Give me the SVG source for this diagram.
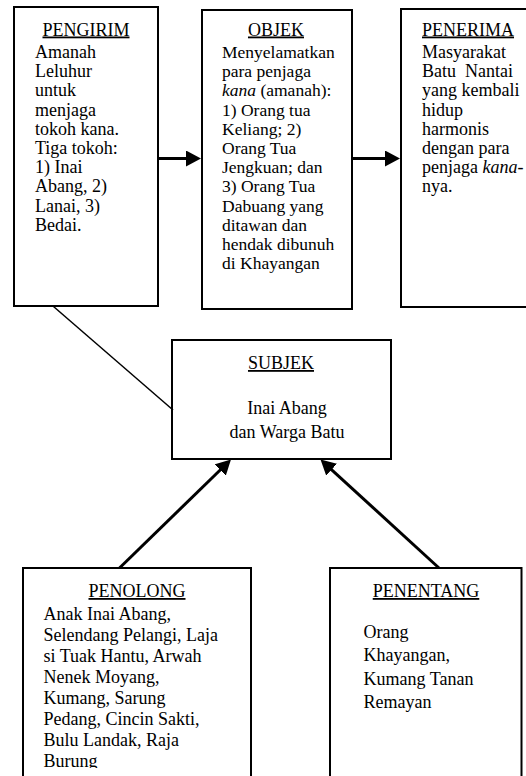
<svg xmlns="http://www.w3.org/2000/svg" width="526" height="776" viewBox="0 0 526 776">
<style>
  .box { fill: #ffffff; stroke: #000000; stroke-width: 2; }
  text { font-family: "Liberation Serif", "Times New Roman", serif; font-size: 18px; fill: #000000; }
  .obj { font-size: 17.5px; }
  .hd { text-decoration: underline; }
  .mid { text-anchor: middle; }
  .pre { white-space: pre; }
  .arrow { stroke: #000000; stroke-width: 3; fill: none; marker-end: url(#ah); }
  .thin { stroke: #000000; stroke-width: 1.5; fill: none; }
  .it { font-style: italic; }
</style>
<defs>
  <marker id="ah" viewBox="0 0 15 16" refX="5" refY="8" markerWidth="15" markerHeight="16" markerUnits="userSpaceOnUse" orient="auto">
    <path d="M0,0 L15,8 L0,16 z" fill="#000000"/>
  </marker>
  <clipPath id="clipPenolong">
    <rect x="23" y="568" width="228" height="200"/>
  </clipPath>
</defs>
<rect width="526" height="776" fill="#ffffff"/>

<g id="pengirim">
  <rect class="box" x="14" y="7" width="144" height="299"/>
  <text class="hd mid" x="86" y="35.5">PENGIRIM</text>
  <text x="35" y="58">Amanah</text>
  <text x="35" y="77.2">Leluhur</text>
  <text x="35" y="96.4">untuk</text>
  <text x="35" y="115.6">menjaga</text>
  <text x="35" y="134.8">tokoh kana.</text>
  <text x="35" y="154">Tiga tokoh:</text>
  <text x="35" y="173.2">1) Inai</text>
  <text x="35" y="192.4">Abang, 2)</text>
  <text x="35" y="211.6">Lanai, 3)</text>
  <text x="35" y="230.8">Bedai.</text>
</g>

<g id="objek">
  <rect class="box" x="202" y="10" width="150" height="299"/>
  <text class="hd mid" x="276" y="35.5">OBJEK</text>
  <text class="obj" x="222" y="58">Menyelamatkan</text>
  <text class="obj" x="222" y="77.2">para penjaga</text>
  <text class="obj" x="222" y="96.4"><tspan class="it">kana</tspan> (amanah):</text>
  <text class="obj" x="222" y="115.6">1) Orang tua</text>
  <text class="obj" x="222" y="134.8">Keliang; 2)</text>
  <text class="obj" x="222" y="154">Orang Tua</text>
  <text class="obj" x="222" y="173.2">Jengkuan; dan</text>
  <text class="obj" x="222" y="192.4">3) Orang Tua</text>
  <text class="obj" x="222" y="211.6">Dabuang yang</text>
  <text class="obj" x="222" y="230.8">ditawan dan</text>
  <text class="obj" x="222" y="250">hendak dibunuh</text>
  <text class="obj" x="222" y="269">di Khayangan</text>
</g>

<g id="penerima">
  <rect class="box" x="401" y="9" width="140" height="298"/>
  <text class="hd" x="422" y="35.5">PENERIMA</text>
  <text x="422" y="58">Masyarakat</text>
  <text class="pre" x="422" y="77.2" xml:space="preserve">Batu  Nantai</text>
  <text x="422" y="96.4">yang kembali</text>
  <text x="422" y="115.6">hidup</text>
  <text x="422" y="134.8">harmonis</text>
  <text x="422" y="154">dengan para</text>
  <text x="422" y="173.2">penjaga <tspan class="it">kana-</tspan></text>
  <text x="422" y="192.4">nya.</text>
</g>

<g id="subjek">
  <rect class="box" x="172" y="340" width="219" height="119"/>
  <text class="hd mid" x="281" y="369">SUBJEK</text>
  <text class="mid" x="287" y="414">Inai Abang</text>
  <text class="mid" x="287" y="438">dan Warga Batu</text>
</g>

<g id="penolong">
  <rect class="box" x="23" y="568" width="228" height="220"/>
  <text class="hd mid" x="137" y="597">PENOLONG</text>
  <g clip-path="url(#clipPenolong)">
    <text x="43.5" y="620">Anak Inai Abang,</text>
    <text x="43.5" y="641">Selendang Pelangi, Laja</text>
    <text x="43.5" y="662">si Tuak Hantu, Arwah</text>
    <text x="43.5" y="683">Nenek Moyang,</text>
    <text x="43.5" y="704">Kumang, Sarung</text>
    <text x="43.5" y="725">Pedang, Cincin Sakti,</text>
    <text x="43.5" y="746">Bulu Landak, Raja</text>
    <text x="43.5" y="767">Burung</text>
  </g>
</g>

<g id="penentang">
  <rect class="box" x="330" y="568" width="191.5" height="220"/>
  <text class="hd mid" x="426" y="597">PENENTANG</text>
  <text x="363.5" y="637.5">Orang</text>
  <text x="363.5" y="661">Khayangan,</text>
  <text x="363.5" y="684.5">Kumang Tanan</text>
  <text x="363.5" y="708">Remayan</text>
</g>

<g id="connectors">
  <line class="arrow" x1="159" y1="158.5" x2="191" y2="158.5"/>
  <line class="arrow" x1="353" y1="158.5" x2="390" y2="158.5"/>
  <line class="thin" x1="53.5" y1="306.5" x2="173" y2="410"/>
  <line class="arrow" x1="119.5" y1="568" x2="223.8" y2="466.5"/>
  <line class="arrow" x1="439" y1="568" x2="327.9" y2="466.3"/>
</g>
</svg>
